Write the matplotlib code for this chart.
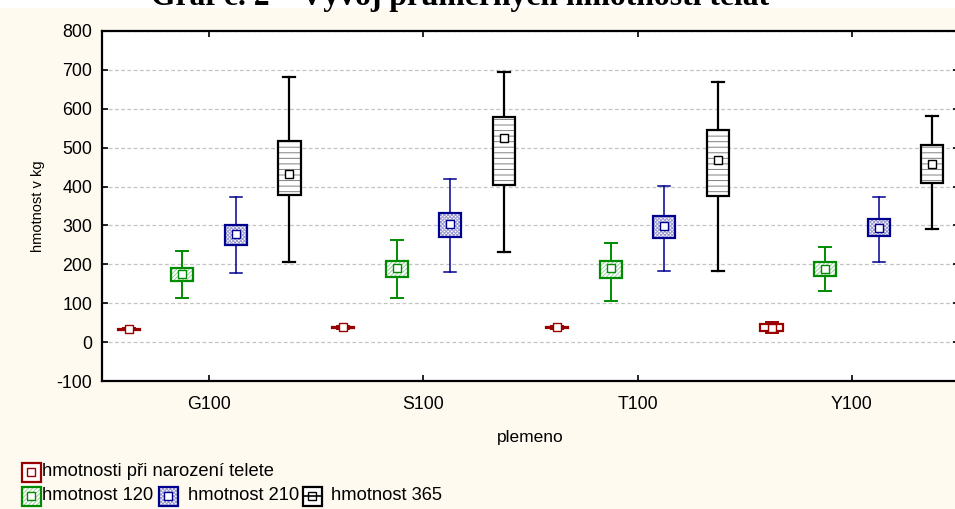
import numpy as np
import matplotlib.pyplot as plt
from matplotlib.patches import Rectangle

# Mean weights of calves by breed: mean marker, box (SE) and whiskers (SD)
breeds = ["G100", "S100", "T100", "Y100"]
y_ticks = [-100, 0, 100, 200, 300, 400, 500, 600, 700, 800]

# birth weight
birth_mean = [33, 38, 38, 37]
birth_box_lo = [31, 36, 36, 29]
birth_box_hi = [35, 40, 40, 46]
birth_wh_lo = [30, 35, 35, 24]
birth_wh_hi = [36, 41, 41, 52]

# weight at 120 days
w120_mean = [174, 191, 191, 188]
w120_box_lo = [158, 168, 164, 170]
w120_box_hi = [190, 209, 209, 206]
w120_wh_lo = [113, 114, 106, 132]
w120_wh_hi = [235, 263, 255, 245]

# weight at 210 days
w210_mean = [278, 304, 299, 293]
w210_box_lo = [251, 271, 267, 273]
w210_box_hi = [300, 332, 325, 317]
w210_wh_lo = [177, 180, 184, 206]
w210_wh_hi = [374, 419, 401, 373]

# weight at 365 days
w365_mean = [433, 525, 468, 459]
w365_box_lo = [379, 405, 377, 408]
w365_box_hi = [518, 579, 546, 507]
w365_wh_lo = [205, 232, 184, 291]
w365_wh_hi = [681, 695, 668, 581]

labels = ["hmotnosti při narození telete", "hmotnost 120",
          "hmotnost 210", "hmotnost 365"]

RED = "#990000"
GREEN = "#008c00"
BLUE = "#000090"
BLACK = "#000000"

plt.rcParams['font.family'] = ['Liberation Sans', 'DejaVu Sans']
plt.rcParams['hatch.linewidth'] = 0.7

W, H = 955, 509
BOX_W = 0.103
CAP_W = 0.056


def draw_series(ax, offset, mean, box_lo, box_hi, wh_lo, wh_hi, color,
                hatch, hatch_color, lw_wh):
    pos = np.arange(len(breeds)) + offset
    for x, m, bl, bh, wl, wh in zip(pos, mean, box_lo, box_hi, wh_lo, wh_hi):
        # whiskers and caps
        ax.plot([x, x], [wl, bl], color=color, lw=lw_wh, zorder=3)
        ax.plot([x, x], [bh, wh], color=color, lw=lw_wh, zorder=3)
        ax.plot([x - CAP_W / 2, x + CAP_W / 2], [wl, wl], color=color,
                lw=lw_wh, zorder=3)
        ax.plot([x - CAP_W / 2, x + CAP_W / 2], [wh, wh], color=color,
                lw=lw_wh, zorder=3)
        # box with pattern fill, then the outline on top
        ax.add_patch(Rectangle((x - BOX_W / 2, bl), BOX_W, bh - bl,
                               facecolor='white', edgecolor=hatch_color,
                               hatch=hatch, lw=0, zorder=4))
        ax.add_patch(Rectangle((x - BOX_W / 2, bl), BOX_W, bh - bl,
                               fill=False, edgecolor=color, lw=1.6, zorder=5))
        ax.plot(x, m, marker='s', ms=5.8, mfc='white', mec=color, mew=1.0,
                zorder=6)


def legend_icon(ov, x, y, color, hatch, hatch_color, midline=False):
    # 20x20 px square with a small mean marker inside
    ov.add_patch(Rectangle((x, y), 19, 19, facecolor='white',
                           edgecolor=hatch_color, hatch=hatch, lw=0))
    ov.add_patch(Rectangle((x, y), 19, 19, fill=False, edgecolor=color,
                           lw=1.6))
    if midline:
        ov.plot([x, x + 19], [y + 9.5, y + 9.5], color=color, lw=1.2)
    ov.add_patch(Rectangle((x + 5.5, y + 5.5), 8, 8, facecolor='white',
                           edgecolor=color, lw=1.0))


fig = plt.figure(figsize=(W / 100, H / 100), dpi=100, facecolor='#FFFAF0')

ax = fig.add_axes([102 / W, 1 - 381 / H, (959 - 102) / W, (381 - 31) / H])
ax.set_facecolor('white')

draw_series(ax, -0.375, birth_mean, birth_box_lo, birth_box_hi,
            birth_wh_lo, birth_wh_hi, RED, None, RED, 1.4)
draw_series(ax, -0.125, w120_mean, w120_box_lo, w120_box_hi,
            w120_wh_lo, w120_wh_hi, GREEN, '////////', '#9ccf9c', 1.4)
draw_series(ax, 0.125, w210_mean, w210_box_lo, w210_box_hi,
            w210_wh_lo, w210_wh_hi, BLUE, 'xxxxxxxxx', '#9a9ad0', 1.1)
draw_series(ax, 0.375, w365_mean, w365_box_lo, w365_box_hi,
            w365_wh_lo, w365_wh_hi, BLACK, '---', '#808080', 1.6)

ax.set_xlim(-0.5, len(breeds) - 0.5)
ax.set_ylim(-100, 800)
ax.set_xticks(np.arange(len(breeds)))
ax.set_xticklabels(breeds, fontsize=12.8)
ax.set_yticks(y_ticks)
ax.set_yticklabels([str(v) for v in y_ticks], fontsize=12.8)
ax.tick_params(axis='y', direction='in', length=4, width=1.2, right=True,
               pad=7)
ax.tick_params(axis='x', direction='in', length=4, width=1.2, top=True,
               pad=11)
ax.yaxis.grid(True, color='#c4c4c4', linestyle=(0, (3, 2)), lw=0.9)
ax.set_axisbelow(True)
for s in ax.spines.values():
    s.set_linewidth(1.6)

ax.set_xlabel("plemeno", fontsize=12.5, labelpad=12)
ax.set_ylabel("hmotnost v kg", fontsize=10.5, labelpad=8)

# overlay in pixel units for the title band and the legend
ov = fig.add_axes([0, 0, 1, 1], zorder=-1)
ov.set_xlim(0, W)
ov.set_ylim(H, 0)
ov.axis('off')
ov.add_patch(Rectangle((0, -2), W, 10, facecolor='white', lw=0))
ov.text(460, 5, "Graf č. 2 – Vývoj průměrných hmotností telat",
        family=['Liberation Serif', 'DejaVu Serif'], fontweight='bold',
        fontsize=22.8, ha='center', va='baseline')

leg = fig.add_axes([0, 0, 1, 1], zorder=2)
leg.set_xlim(0, W)
leg.set_ylim(H, 0)
leg.axis('off')
legend_icon(leg, 21.5, 462.5, RED, None, RED)
leg.text(42, 472, labels[0], fontsize=13.2, va='center')
legend_icon(leg, 21.5, 486.5, GREEN, '////////', '#9ccf9c')
leg.text(42, 496, labels[1], fontsize=13.2, va='center')
legend_icon(leg, 158.5, 486.5, BLUE, 'xxxxxxxxx', '#9a9ad0')
leg.text(188, 496, labels[2], fontsize=13.2, va='center')
legend_icon(leg, 302.5, 486.5, BLACK, None, BLACK, midline=True)
leg.text(331, 496, labels[3], fontsize=13.2, va='center')

fig.savefig("out.png", dpi=100, facecolor=fig.get_facecolor())
